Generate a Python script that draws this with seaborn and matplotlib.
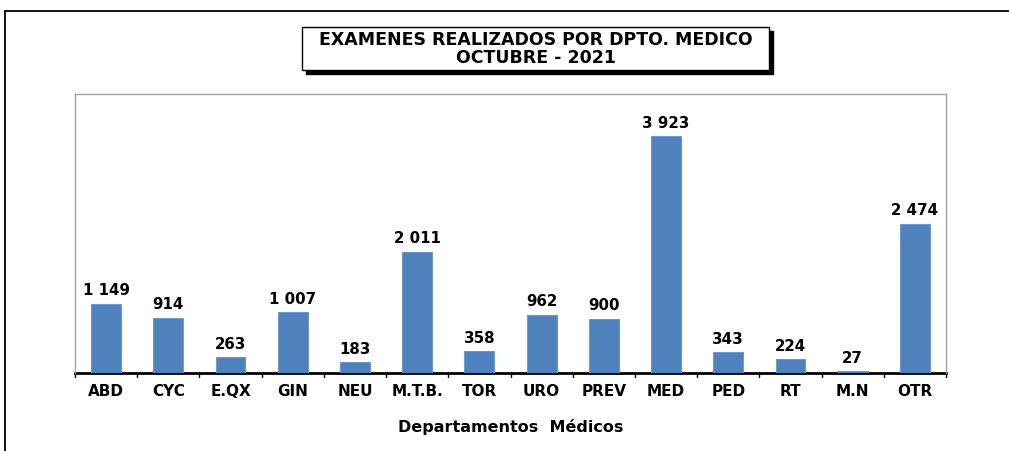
import pandas as pd
import seaborn as sns
import matplotlib.pyplot as plt
from matplotlib.patches import Rectangle
from matplotlib.lines import Line2D

# data
departamentos = ["ABD", "CYC", "E.QX", "GIN", "NEU", "M.T.B.", "TOR", "URO",
                 "PREV", "MED", "PED", "RT", "M.N", "OTR"]
examenes = [1149, 914, 263, 1007, 183, 2011, 358, 962, 900, 3923, 343, 224, 27, 2474]

df = pd.DataFrame({"dpto": departamentos, "n": examenes})

sns.set_style("white")
plt.rcParams["font.family"] = ["DejaVu Sans"]
plt.rcParams["text.color"] = "black"
plt.rcParams["xtick.color"] = "black"
plt.rcParams["xtick.labelcolor"] = "black"
plt.rcParams["axes.labelcolor"] = "black"

fig = plt.figure(figsize=(10.09, 4.51), dpi=100)
ax = fig.add_axes([75 / 1009, 1 - 373 / 451, 871 / 1009, 279 / 451])

sns.barplot(data=df, x="dpto", y="n", color="#4F81BD", width=0.48,
            saturation=1, ax=ax, zorder=3, edgecolor="#6F97C9", linewidth=0.8)
ax.set_ylim(0, 4618)
ax.set_xlim(-0.5, len(departamentos) - 0.5)

# value labels, thousands separated by a space
for i, v in enumerate(examenes):
    txt = f"{v:,}".replace(",", " ")
    ax.text(i, v + 90, txt, ha="center", va="bottom", fontsize=10.8,
            fontweight="bold")

ax.set_yticks([])
ax.set_ylabel("")
ax.set_xticks(range(len(departamentos)))
ax.set_xticklabels(departamentos, fontsize=11, fontweight="bold")
ax.tick_params(axis="x", length=0, pad=8)
# small ticks between categories
for b in range(len(departamentos) + 1):
    ax.plot([b - 0.5, b - 0.5], [0, -60], color="black", lw=1, clip_on=False)
ax.set_xlabel("Departamentos  Médicos", fontsize=11.5, fontweight="bold",
              labelpad=14)

for s in ["left", "top", "right"]:
    ax.spines[s].set_color("#A0A0A0")
    ax.spines[s].set_linewidth(1)
ax.spines["bottom"].set_color("black")
ax.spines["bottom"].set_linewidth(2)
ax.spines["bottom"].set_zorder(2)

# outer frame (cut off on the right and bottom)
fig.add_artist(Line2D([5 / 1009, 1], [1 - 11 / 451, 1 - 11 / 451],
                      color="black", lw=1.3))
fig.add_artist(Line2D([5 / 1009, 5 / 1009], [0, 1 - 11 / 451],
                      color="black", lw=1.3))

# title box with shadow
bx, by, bw, bh = 302 / 1009, 1 - 70 / 451, 467 / 1009, 43 / 451
fig.add_artist(Rectangle((bx + 4 / 1009, by - 4 / 451), bw, bh,
                         facecolor="black", edgecolor="black",
                         transform=fig.transFigure))
fig.add_artist(Rectangle((bx, by), bw, bh, facecolor="white",
                         edgecolor="black", lw=1,
                         transform=fig.transFigure))
fig.text(bx + bw / 2, by + bh / 2,
         "EXAMENES REALIZADOS POR DPTO. MEDICO\nOCTUBRE - 2021",
         ha="center", va="center", fontsize=12.5, fontweight="bold",
         linespacing=1.0)

fig.savefig("out.png", dpi=100, facecolor="white")
